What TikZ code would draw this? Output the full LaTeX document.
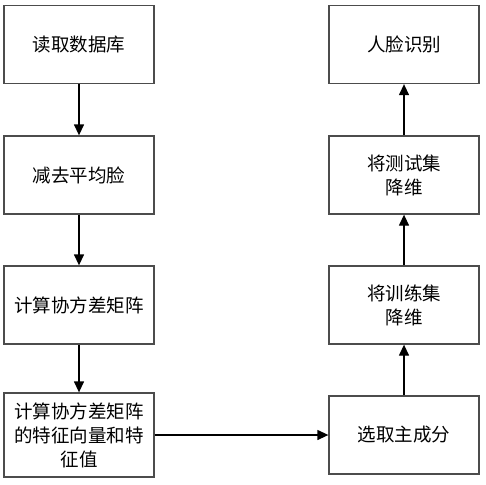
\documentclass[tikz,border=0pt]{standalone}
\usepackage{fontspec}
\newfontfamily\cjk{Noto Sans CJK SC}
\usetikzlibrary{arrows.meta}
\tikzset{
  stepbox/.style={draw=black!70, line width=1.3pt, minimum width=150pt, minimum height=78pt, inner sep=0pt, align=center, font=\cjk\fontsize{18.5}{24}\selectfont},
  flow/.style={line width=1.3pt, -{Triangle[length=11pt,width=10pt]}}
}
\begin{document}
\begin{tikzpicture}[x=1pt,y=1pt]
			%%%%% START %%%%%
			\useasboundingbox (0, 0) rectangle (486, -484);
			
			\node[stepbox] (read) at (79, -44.5) {读取数据库};
			\node[stepbox] (mean) at (79, -175) {减去平均脸};
			\node[stepbox] (cov) at (79, -305) {计算协方差矩阵};
			\node[stepbox, minimum height=84pt] (eig) at (79, -435) {计算协方差矩阵\\的特征向量和特\\征值};
			
			\node[stepbox] (pick) at (404, -435) {选取主成分};
			\node[stepbox] (train) at (404, -305) {将训练集\\降维};
			\node[stepbox] (test) at (404, -175) {将测试集\\降维};
			\node[stepbox] (face) at (404, -44.5) {人脸识别};
			
			\draw[flow] (read) -- (mean);
			\draw[flow] (mean) -- (cov);
			\draw[flow] (cov) -- (eig);
			\draw[flow] (eig) -- (pick);
			\draw[flow] (pick) -- (train);
			\draw[flow] (train) -- (test);
			\draw[flow] (test) -- (face);
			
			%%%%% END %%%%%
\end{tikzpicture}
\end{document}
